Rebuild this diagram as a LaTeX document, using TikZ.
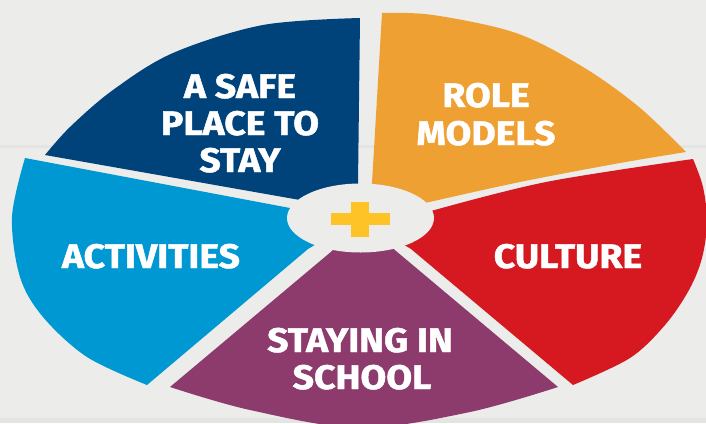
\documentclass[tikz,border=0pt]{standalone}
\usepackage{fontspec}
\setmainfont{Fira Sans}[BoldFeatures={FakeBold=1.4,FakeStretch=1.1}]
\usetikzlibrary{shapes.geometric}
\definecolor{wall}{RGB}{236,236,235}
\definecolor{mortar}{RGB}{228,228,227}
\definecolor{navy}{RGB}{0,66,122}
\definecolor{amber}{RGB}{238,160,50}
\definecolor{crimson}{RGB}{214,24,33}
\definecolor{plum}{RGB}{141,58,109}
\definecolor{sky}{RGB}{0,152,211}
\definecolor{gold}{RGB}{253,195,39}
\begin{document}
\begin{tikzpicture}[x=1pt,y=-1pt,
  caption/.style={text=white,inner sep=0pt,anchor=base,
    font=\bfseries\fontsize{34}{37}\selectfont},
  edge/.style={smooth,tension=0.55}]
\useasboundingbox (0,0) rectangle (706,423);
% wall background with faint mortar joints
\fill[wall] (0,0) rectangle (706,423);
\fill[mortar] (0,145) rectangle (706,147.5);
\fill[mortar] (0,418) rectangle (706,423);

\coordinate (C) at (360,218);

% dark blue sector, top left
\fill[navy] (C) -- (300,200) -- (45,155)
  -- plot[edge] coordinates {(45,155) (70,127) (113,90) (173,53) (263,25) (360,18)}
  -- (358,184) -- cycle;
% orange sector, top right
\fill[amber] (C) -- (372,183) -- (382,13)
  -- plot[edge] coordinates {(382,13) (433,15) (516,33) (583,67) (639,107) (686,152)}
  -- plot[edge] coordinates {(686,152) (620,163) (520,182) (425,203)}
  -- cycle;
% red sector, right
\fill[crimson] (C) -- (431,211)
  -- plot[edge] coordinates {(431,211) (546,182) (693,159)}
  -- plot[edge] coordinates {(693,159) (703,187) (707,222) (702,258) (689,290) (665,325) (630,358) (573,385)}
  -- (411,249) -- cycle;
% purple sector, bottom
\fill[plum] (C) -- (396,251) -- (558,387)
  -- plot[edge] coordinates {(558,387) (470,412) (360,428) (250,410) (170,387)}
  -- (332,251) -- cycle;
% light blue sector, left
\fill[sky] (C) -- (308,249) -- (147,385)
  -- plot[edge] coordinates {(147,385) (87,357) (43,317) (20,277) (12,217) (25,158)}
  -- (290,208) -- cycle;

% central hub with the plus sign
\node[ellipse,fill=wall,minimum width=147pt,minimum height=69pt,inner sep=0pt] (hub) at (360.5,218) {};
\fill[gold] (331,213) rectangle (390,225);
\fill[gold] (351,202) rectangle (369,237);

% sector captions
\node[caption] (safeA) at (240,98) {A SAFE};
\node[caption] (safeB) at (240,135) {PLACE TO};
\node[caption] (safeC) at (240,172) {STAY};
\node[caption] (roleA) at (486,107) {ROLE};
\node[caption] (roleB) at (486,145) {MODELS};
\node[caption] (culture) at (568,268) {CULTURE};
\node[caption] (activities) at (151,268) {ACTIVITIES};
\node[caption] (schoolA) at (360,352) {STAYING IN};
\node[caption] (schoolB) at (362,389) {SCHOOL};
\end{tikzpicture}
\end{document}
